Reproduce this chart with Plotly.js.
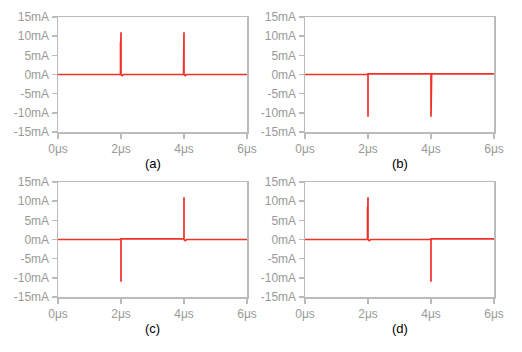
<!DOCTYPE html>
<html><head><meta charset="utf-8">
<script src="https://cdn.plot.ly/plotly-3.0.1.min.js"></script>
<style>html,body{margin:0;padding:0;background:#fff}</style>
</head><body><div id="chart" style="width:522px;height:352px"></div>
<script>
// time in microseconds, current in mA
const tA = [0, 1.985, 1.985, 1.985, 2.0, 2.0, 2.0, 2.04, 2.08, 3.985, 3.985, 3.985, 4.0, 4.0, 4.0, 4.04, 4.08, 6];
const iA = [0, 0, 8.5, 0, 0, 11, 0, -0.3, 0, 0, 8.5, 0, 0, 11, 0, -0.3, 0, 0];
const tB = [0, 2.0, 2.0, 2.0, 2.02, 4.0, 4.0, 4.0, 4.02, 6];
const iB = [0, 0, -11, 0.15, 0.15, 0.15, -11, 0.15, 0.15, 0.15];
const tC = [0, 2.0, 2.0, 2.0, 2.02, 4.0, 4.0, 4.0, 4.04, 4.08, 6];
const iC = [0, 0, -11, 0.15, 0.15, 0.15, 11, 0, -0.3, 0, 0];
const tD = [0, 1.985, 1.985, 1.985, 2.0, 2.0, 2.0, 2.04, 2.08, 4.0, 4.0, 4.0, 4.02, 6];
const iD = [0, 0, 8.5, 0, 0, 11, 0, -0.3, 0, 0, -11, 0.15, 0.15, 0.15];
const yTickVals = [-15, -10, -5, 0, 5, 10, 15];
const yTickText = ['-15mA', '-10mA', '-5mA', '0mA', '5mA', '10mA', '15mA'];
const xTickVals = [0, 2, 4, 6];
const xTickText = ['0μs', '2μs', '4μs', '6μs'];
const captions = ['(a)', '(b)', '(c)', '(d)'];

const series = [[tA, iA], [tB, iB], [tC, iC], [tD, iD]];
const lineColor = 'rgb(240,50,40)';
const traces = series.map((s, k) => ({
  x: s[0], y: s[1], type: 'scatter', mode: 'lines',
  xaxis: 'x' + (k === 0 ? '' : k + 1), yaxis: 'y' + (k === 0 ? '' : k + 1),
  line: {color: lineColor, width: 1.7}, hoverinfo: 'none'
}));

const W = 522, H = 352;
const xDom = [[58 / W, 247 / W], [305 / W, 494 / W]];
const yDom = [[1 - 132 / H, 1 - 17 / H], [1 - 297 / H, 1 - 182 / H]];
const font = {family: 'Liberation Sans, Arial, sans-serif', size: 12, color: '#999'};
const axBase = {
  showline: true, mirror: true, linecolor: '#bbb', linewidth: 1.5,
  ticks: 'outside', ticklen: 5, tickcolor: '#bbb', tickwidth: 1.5,
  showgrid: false, zeroline: false, tickfont: font, fixedrange: true
};
const layout = {
  width: W, height: H, margin: {l: 0, r: 0, t: 0, b: 0},
  paper_bgcolor: '#fff', plot_bgcolor: '#fff', showlegend: false,
  annotations: []
};
for (let k = 0; k < 4; k++) {
  const col = k % 2, row = Math.floor(k / 2);
  const sfx = k === 0 ? '' : String(k + 1);
  layout['xaxis' + sfx] = Object.assign({}, axBase, {
    domain: xDom[col], range: [0, 6], anchor: 'y' + sfx,
    tickvals: xTickVals, ticktext: xTickText
  });
  layout['yaxis' + sfx] = Object.assign({}, axBase, {
    domain: yDom[row], range: [-15, 15], anchor: 'x' + sfx,
    tickvals: yTickVals, ticktext: yTickText
  });
  layout.annotations.push({
    text: captions[k], xref: 'paper', yref: 'paper', showarrow: false,
    x: (xDom[col][0] + xDom[col][1]) / 2, y: row === 0 ? 1 - 164 / H : 1 - 328 / H,
    xanchor: 'center', yanchor: 'middle',
    font: {family: 'Liberation Sans, Arial, sans-serif', size: 13, color: '#000'}
  });
}
Plotly.newPlot('chart', traces, layout, {displayModeBar: false, staticPlot: true});
</script></body></html>
